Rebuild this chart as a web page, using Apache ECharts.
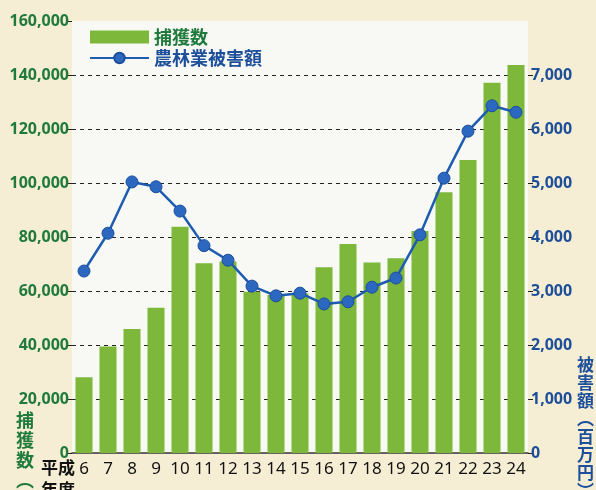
<!DOCTYPE html>
<html>
<head>
<meta charset="utf-8">
<script src="https://cdn.jsdelivr.net/npm/echarts@6/dist/echarts.min.js"></script>
<style>
  html, body { margin: 0; padding: 0; background: #f6eed4; }
  #chart { width: 596px; height: 490px; }
</style>
</head>
<body>
<div id="chart"></div>
<script>
// 年度 (平成)
var years = ['6', '7', '8', '9', '10', '11', '12', '13', '14', '15', '16', '17', '18', '19', '20', '21', '22', '23', '24'];
// 捕獲数 (頭)
var captureCount = [28100, 39400, 45900, 53800, 83800, 70300, 70900, 59700, 58500, 59100, 68800, 77400, 70600, 72100, 82200, 96600, 108500, 137100, 143700];
// 農林業被害額 (百万円)
var damageAmount = [3370, 4070, 5020, 4930, 4480, 3840, 3570, 3090, 2910, 2960, 2760, 2800, 3070, 3240, 4040, 5090, 5960, 6430, 6310];

var numFont = "'Noto Sans', sans-serif";
var jpFont = "'Noto Sans CJK JP', sans-serif";
var greenText = '#1f7a3c';
var blueText = '#1d4f9a';

var chart = echarts.init(document.getElementById('chart'));

var option = {
  backgroundColor: '#f6eed4',
  animation: false,
  grid: {
    left: 72, right: 68, top: 21, bottom: 37,
    show: true,
    backgroundColor: '#f8f8f5',
    borderWidth: 0
  },
  legend: {
    orient: 'vertical',
    left: 84,
    top: 23,
    itemWidth: 59,
    itemHeight: 13,
    itemGap: 3,
    textStyle: { fontFamily: jpFont, fontSize: 18, fontWeight: 'bold', color: blueText },
    data: [
      { name: '捕獲数', icon: 'rect', textStyle: { color: greenText } },
      { name: '農林業被害額', textStyle: { color: blueText } }
    ]
  },
  xAxis: {
    type: 'category',
    data: years,
    axisLine: { show: true, lineStyle: { color: '#333', width: 1.5 } },
    axisTick: { show: false },
    axisLabel: { color: '#111', fontFamily: numFont, fontSize: 17, margin: 8, interval: 0 }
  },
  yAxis: [
    {
      type: 'value',
      min: 0, max: 160000, interval: 20000,
      axisLine: { show: false },
      axisTick: { show: true, length: 4, lineStyle: { color: '#222' } },
      axisLabel: {
        color: greenText, fontFamily: numFont, fontSize: 16, fontWeight: 'bold', margin: 3,
        formatter: function (v) { return v.toLocaleString('en-US'); }
      },
      splitLine: {
        show: true, showMinLine: false, showMaxLine: false,
        lineStyle: { color: '#222', type: [4, 4], width: 1 }
      }
    },
    {
      type: 'value',
      min: 0, max: 8000, interval: 1000,
      position: 'right',
      axisLine: { show: false },
      axisTick: { show: true, length: 5, lineStyle: { color: '#222' } },
      axisLabel: {
        color: blueText, fontFamily: numFont, fontSize: 16, fontWeight: 'bold', margin: 3,
        showMaxLabel: false,
        formatter: function (v) { return v.toLocaleString('en-US'); }
      },
      splitLine: { show: false }
    }
  ],
  series: [
    {
      name: '捕獲数',
      type: 'bar',
      yAxisIndex: 0,
      barWidth: 17,
      itemStyle: { color: '#7db83b' },
      data: captureCount
    },
    {
      name: '農林業被害額',
      type: 'line',
      yAxisIndex: 1,
      symbol: 'circle',
      symbolSize: 12,
      lineStyle: { color: '#1d5cb0', width: 2.5 },
      itemStyle: { color: '#2c68c0', borderColor: '#1b4f9c', borderWidth: 1 },
      data: damageAmount
    }
  ],
  graphic: [
    {
      type: 'text', left: 16, top: 410,
      style: { text: '捕\n獲\n数\n︵\n頭', fontFamily: jpFont, fontSize: 18, fontWeight: 'bold', lineHeight: 20, fill: greenText }
    },
    {
      type: 'text', left: 577, top: 356,
      style: { text: '被\n害\n額\n︵\n百\n万\n円\n︶', fontFamily: jpFont, fontSize: 17, fontWeight: 'bold', lineHeight: 18, fill: blueText }
    },
    {
      type: 'text', left: 41, top: 459,
      style: { text: '平成', fontFamily: jpFont, fontSize: 17, fontWeight: 'bold', fill: '#111' }
    },
    {
      type: 'text', left: 41, top: 481,
      style: { text: '年度', fontFamily: jpFont, fontSize: 17, fontWeight: 'bold', fill: '#111' }
    }
  ]
};

chart.setOption(option);
</script>
</body>
</html>
